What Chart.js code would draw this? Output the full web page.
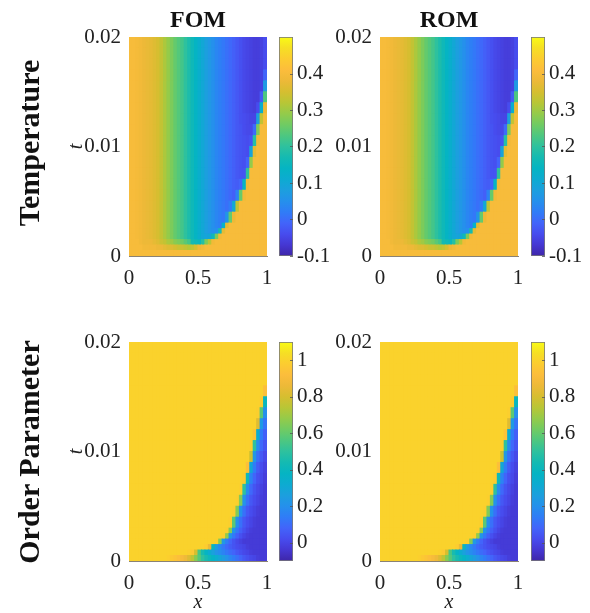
<!DOCTYPE html>
<html><head><meta charset="utf-8">
<script src="https://cdn.jsdelivr.net/npm/chart.js@4/dist/chart.umd.min.js"></script>
<style>
html,body{margin:0;padding:0;background:#fff;}
#wrap{position:relative;width:590px;height:613px;overflow:hidden;background:#fff;}
canvas{position:absolute;left:0;top:0;}
.lbl{position:absolute;font-family:"Liberation Serif","Times New Roman",serif;color:#111;font-weight:bold;white-space:nowrap;line-height:1;transform:translate(-50%,-50%);}
.rot{transform:translate(-50%,-50%) rotate(-90deg);}
</style></head><body>
<div id="wrap">
<canvas id="h1" width="590" height="613"></canvas>
<canvas id="h2" width="590" height="613"></canvas>
<canvas id="h3" width="590" height="613"></canvas>
<canvas id="h4" width="590" height="613"></canvas>
<canvas id="c1" width="590" height="613"></canvas>
<canvas id="c2" width="590" height="613"></canvas>
<canvas id="c3" width="590" height="613"></canvas>
<canvas id="c4" width="590" height="613"></canvas>
<div class="lbl" style="left:198px;top:19px;font-size:24px;">FOM</div>
<div class="lbl" style="left:449px;top:19px;font-size:24px;">ROM</div>
<div class="lbl rot" style="left:29px;top:143px;font-size:30px;">Temperature</div>
<div class="lbl rot" style="left:29px;top:452px;font-size:30px;">Order Parameter</div>
</div>
<script>
// ---------- data ----------
const xCenters = [0.0125,0.0375,0.0625,0.0875,0.1125,0.1375,0.1625,0.1875,0.2125,0.2375,
0.2625,0.2875,0.3125,0.3375,0.3625,0.3875,0.4125,0.4375,0.4625,0.4875,
0.5125,0.5375,0.5625,0.5875,0.6125,0.6375,0.6625,0.6875,0.7125,0.7375,
0.7625,0.7875,0.8125,0.8375,0.8625,0.8875,0.9125,0.9375,0.9625,0.9875];
const tEdges = [0,0.0005,0.001,0.0015,0.002,0.0025,0.003,0.004,0.005,0.006,0.007,0.008,0.009,0.010,0.011,0.012,0.013,0.014,0.015,0.016,0.017,0.018,0.019,0.020];
const xTicks = [0,0.5,1];
const tTicks = [0,0.01,0.02];
const tempTicks = [-0.1,0,0.1,0.2,0.3,0.4];
const orderTicks = [0,0.2,0.4,0.6,0.8,1];
const tempRange = [-0.1,0.5];
const orderRange = [-0.1,1.1];

// rows: bottom (t=0) to top (t=0.02); 40 columns each
const tempFOM = [
[.40,.40,.40,.40,.40,.40,.40,.40,.40,.40,.40,.40,.40,.40,.40,.40,.40,.40,.40,.40,.40,.40,.40,.40,.40,.40,.40,.40,.40,.40,.40,.40,.40,.40,.40,.40,.40,.40,.40,.40],
[.40,.40,.40,.40,.39,.39,.39,.39,.38,.38,.37,.36,.36,.35,.34,.34,.33,.32,.33,.35,.38,.39,.40,.40,.40,.40,.40,.40,.40,.40,.40,.40,.40,.40,.40,.40,.40,.40,.40,.40],
[.40,.40,.40,.39,.38,.38,.38,.37,.36,.34,.33,.31,.30,.28,.27,.26,.24,.22,.17,.16,.15,.19,.27,.32,.39,.40,.40,.40,.40,.40,.40,.40,.40,.40,.40,.40,.40,.40,.40,.40],
[.40,.40,.395,.39,.38,.375,.37,.36,.35,.33,.31,.29,.27,.25,.235,.22,.20,.18,.16,.14,.12,.10,.09,.10,.16,.27,.39,.40,.40,.40,.40,.40,.40,.40,.40,.40,.40,.40,.40,.40],
[.40,.40,.395,.39,.38,.375,.37,.36,.35,.33,.31,.29,.27,.25,.235,.22,.20,.18,.16,.14,.12,.10,.08,.065,.05,.05,.17,.37,.40,.40,.40,.40,.40,.40,.40,.40,.40,.40,.40,.40],
[.40,.40,.395,.39,.38,.375,.37,.36,.35,.33,.31,.29,.27,.25,.235,.22,.20,.18,.16,.14,.12,.10,.08,.065,.05,.035,.025,.13,.37,.40,.40,.40,.40,.40,.40,.40,.40,.40,.40,.40],
[.40,.40,.395,.39,.38,.375,.37,.36,.35,.33,.31,.29,.27,.25,.235,.22,.20,.18,.16,.14,.12,.10,.08,.065,.05,.035,.025,.015,.06,.25,.38,.40,.40,.40,.40,.40,.40,.40,.40,.40],
[.40,.40,.395,.39,.38,.375,.37,.36,.35,.33,.31,.29,.27,.25,.235,.22,.20,.18,.16,.14,.12,.10,.08,.065,.05,.035,.025,.015,.005,.02,.10,.33,.40,.40,.40,.40,.40,.40,.40,.40],
[.40,.40,.395,.39,.38,.375,.37,.36,.35,.33,.31,.29,.27,.25,.235,.22,.20,.18,.16,.14,.12,.10,.08,.065,.05,.035,.025,.015,.005,-.005,-.015,.03,.25,.39,.40,.40,.40,.40,.40,.40],
[.40,.40,.395,.39,.38,.375,.37,.36,.35,.33,.31,.29,.27,.25,.235,.22,.20,.18,.16,.14,.12,.10,.08,.065,.05,.035,.025,.015,.005,-.005,-.015,-.02,-.01,.14,.39,.40,.40,.40,.40,.40],
[.40,.40,.395,.39,.38,.375,.37,.36,.35,.33,.31,.29,.27,.25,.235,.22,.20,.18,.16,.14,.12,.10,.08,.065,.05,.035,.025,.015,.005,-.005,-.015,-.025,-.03,-.03,.20,.40,.40,.40,.40,.40],
[.40,.40,.395,.39,.38,.375,.37,.36,.35,.33,.31,.29,.27,.25,.235,.22,.20,.18,.16,.14,.12,.10,.08,.065,.05,.035,.025,.015,.005,-.005,-.015,-.025,-.03,-.035,-.01,.29,.40,.40,.40,.40],
[.40,.40,.395,.39,.38,.375,.37,.36,.35,.33,.31,.29,.27,.25,.235,.22,.20,.18,.16,.14,.12,.10,.08,.065,.05,.035,.025,.015,.005,-.005,-.015,-.025,-.03,-.035,-.04,.09,.37,.40,.40,.40],
[.40,.40,.395,.39,.38,.375,.37,.36,.35,.33,.31,.29,.27,.25,.235,.22,.20,.18,.16,.14,.12,.10,.08,.065,.05,.035,.025,.015,.005,-.005,-.015,-.025,-.03,-.035,-.04,-.03,.19,.39,.40,.40],
[.40,.40,.395,.39,.38,.375,.37,.36,.35,.33,.31,.29,.27,.25,.235,.22,.20,.18,.16,.14,.12,.10,.08,.065,.05,.035,.025,.015,.005,-.005,-.015,-.025,-.03,-.04,-.045,-.045,.00,.27,.40,.40],
[.40,.40,.395,.39,.38,.375,.37,.36,.35,.33,.31,.29,.27,.25,.235,.22,.20,.18,.16,.14,.12,.10,.08,.065,.05,.035,.025,.015,.005,-.005,-.015,-.025,-.035,-.04,-.045,-.05,-.05,.08,.33,.40],
[.40,.40,.395,.39,.38,.375,.37,.36,.35,.33,.31,.29,.27,.25,.235,.22,.20,.18,.16,.14,.12,.10,.08,.065,.05,.035,.025,.015,.005,-.005,-.015,-.025,-.035,-.045,-.05,-.055,-.06,-.04,.12,.38],
[.40,.40,.395,.39,.38,.375,.37,.36,.35,.33,.31,.29,.27,.25,.235,.22,.20,.18,.16,.14,.12,.10,.08,.065,.05,.035,.025,.015,.005,-.005,-.015,-.025,-.035,-.045,-.05,-.055,-.06,-.06,-.02,.23],
[.40,.40,.395,.39,.38,.375,.37,.36,.35,.33,.31,.29,.27,.25,.235,.22,.20,.18,.16,.14,.12,.10,.08,.065,.05,.035,.025,.015,.005,-.005,-.015,-.025,-.035,-.045,-.05,-.055,-.06,-.06,-.055,.07],
[.40,.40,.395,.39,.38,.375,.37,.36,.35,.33,.31,.29,.27,.25,.235,.22,.20,.18,.16,.14,.12,.10,.08,.065,.05,.035,.025,.015,.005,-.005,-.015,-.025,-.035,-.045,-.05,-.055,-.06,-.06,-.055,-.01],
[.40,.40,.395,.39,.38,.375,.37,.36,.35,.33,.31,.29,.27,.25,.235,.22,.20,.18,.16,.14,.12,.10,.08,.065,.05,.035,.025,.015,.005,-.005,-.015,-.025,-.035,-.045,-.05,-.055,-.06,-.06,-.055,-.04],
[.40,.40,.395,.39,.38,.375,.37,.36,.35,.33,.31,.29,.27,.25,.235,.22,.20,.18,.16,.14,.12,.10,.08,.065,.05,.035,.025,.015,.005,-.005,-.015,-.025,-.035,-.045,-.05,-.055,-.06,-.06,-.055,-.04],
[.40,.40,.395,.39,.38,.375,.37,.36,.35,.33,.31,.29,.27,.25,.235,.22,.20,.18,.16,.14,.12,.10,.08,.065,.05,.035,.025,.015,.005,-.005,-.015,-.025,-.035,-.045,-.05,-.055,-.06,-.06,-.055,-.04]
];
const tempROM = [
[.40,.40,.40,.40,.40,.40,.40,.40,.40,.40,.40,.40,.40,.40,.40,.40,.40,.40,.40,.40,.40,.40,.40,.40,.40,.40,.40,.40,.40,.40,.40,.40,.40,.40,.40,.40,.40,.40,.40,.40],
[.40,.40,.40,.40,.39,.39,.39,.39,.38,.38,.37,.36,.36,.35,.34,.34,.33,.32,.33,.35,.38,.39,.40,.40,.40,.40,.40,.40,.40,.40,.40,.40,.40,.40,.40,.40,.40,.40,.40,.40],
[.40,.40,.40,.39,.38,.38,.38,.37,.36,.34,.33,.31,.30,.28,.27,.26,.24,.22,.17,.16,.15,.19,.27,.32,.39,.40,.40,.40,.40,.40,.40,.40,.40,.40,.40,.40,.40,.40,.40,.40],
[.40,.40,.395,.39,.38,.375,.37,.36,.35,.33,.31,.29,.27,.25,.235,.22,.20,.18,.16,.14,.12,.10,.09,.10,.16,.27,.39,.40,.40,.40,.40,.40,.40,.40,.40,.40,.40,.40,.40,.40],
[.40,.40,.395,.39,.38,.375,.37,.36,.35,.33,.31,.29,.27,.25,.235,.22,.20,.18,.16,.14,.12,.10,.08,.065,.05,.05,.17,.37,.40,.40,.40,.40,.40,.40,.40,.40,.40,.40,.40,.40],
[.40,.40,.395,.39,.38,.375,.37,.36,.35,.33,.31,.29,.27,.25,.235,.22,.20,.18,.16,.14,.12,.10,.08,.065,.05,.035,.025,.13,.37,.40,.40,.40,.40,.40,.40,.40,.40,.40,.40,.40],
[.40,.40,.395,.39,.38,.375,.37,.36,.35,.33,.31,.29,.27,.25,.235,.22,.20,.18,.16,.14,.12,.10,.08,.065,.05,.035,.025,.015,.06,.25,.38,.40,.40,.40,.40,.40,.40,.40,.40,.40],
[.40,.40,.395,.39,.38,.375,.37,.36,.35,.33,.31,.29,.27,.25,.235,.22,.20,.18,.16,.14,.12,.10,.08,.065,.05,.035,.025,.015,.005,.02,.10,.33,.40,.40,.40,.40,.40,.40,.40,.40],
[.40,.40,.395,.39,.38,.375,.37,.36,.35,.33,.31,.29,.27,.25,.235,.22,.20,.18,.16,.14,.12,.10,.08,.065,.05,.035,.025,.015,.005,-.005,-.015,.03,.25,.39,.40,.40,.40,.40,.40,.40],
[.40,.40,.395,.39,.38,.375,.37,.36,.35,.33,.31,.29,.27,.25,.235,.22,.20,.18,.16,.14,.12,.10,.08,.065,.05,.035,.025,.015,.005,-.005,-.015,-.02,-.01,.14,.39,.40,.40,.40,.40,.40],
[.40,.40,.395,.39,.38,.375,.37,.36,.35,.33,.31,.29,.27,.25,.235,.22,.20,.18,.16,.14,.12,.10,.08,.065,.05,.035,.025,.015,.005,-.005,-.015,-.025,-.03,-.03,.20,.40,.40,.40,.40,.40],
[.40,.40,.395,.39,.38,.375,.37,.36,.35,.33,.31,.29,.27,.25,.235,.22,.20,.18,.16,.14,.12,.10,.08,.065,.05,.035,.025,.015,.005,-.005,-.015,-.025,-.03,-.035,-.01,.29,.40,.40,.40,.40],
[.40,.40,.395,.39,.38,.375,.37,.36,.35,.33,.31,.29,.27,.25,.235,.22,.20,.18,.16,.14,.12,.10,.08,.065,.05,.035,.025,.015,.005,-.005,-.015,-.025,-.03,-.035,-.04,.09,.37,.40,.40,.40],
[.40,.40,.395,.39,.38,.375,.37,.36,.35,.33,.31,.29,.27,.25,.235,.22,.20,.18,.16,.14,.12,.10,.08,.065,.05,.035,.025,.015,.005,-.005,-.015,-.025,-.03,-.035,-.04,-.03,.19,.39,.40,.40],
[.40,.40,.395,.39,.38,.375,.37,.36,.35,.33,.31,.29,.27,.25,.235,.22,.20,.18,.16,.14,.12,.10,.08,.065,.05,.035,.025,.015,.005,-.005,-.015,-.025,-.03,-.04,-.045,-.045,.00,.27,.40,.40],
[.40,.40,.395,.39,.38,.375,.37,.36,.35,.33,.31,.29,.27,.25,.235,.22,.20,.18,.16,.14,.12,.10,.08,.065,.05,.035,.025,.015,.005,-.005,-.015,-.025,-.035,-.04,-.045,-.05,-.05,.08,.33,.40],
[.40,.40,.395,.39,.38,.375,.37,.36,.35,.33,.31,.29,.27,.25,.235,.22,.20,.18,.16,.14,.12,.10,.08,.065,.05,.035,.025,.015,.005,-.005,-.015,-.025,-.035,-.045,-.05,-.055,-.06,-.04,.12,.38],
[.40,.40,.395,.39,.38,.375,.37,.36,.35,.33,.31,.29,.27,.25,.235,.22,.20,.18,.16,.14,.12,.10,.08,.065,.05,.035,.025,.015,.005,-.005,-.015,-.025,-.035,-.045,-.05,-.055,-.06,-.06,-.02,.23],
[.40,.40,.395,.39,.38,.375,.37,.36,.35,.33,.31,.29,.27,.25,.235,.22,.20,.18,.16,.14,.12,.10,.08,.065,.05,.035,.025,.015,.005,-.005,-.015,-.025,-.035,-.045,-.05,-.055,-.06,-.06,-.055,.07],
[.40,.40,.395,.39,.38,.375,.37,.36,.35,.33,.31,.29,.27,.25,.235,.22,.20,.18,.16,.14,.12,.10,.08,.065,.05,.035,.025,.015,.005,-.005,-.015,-.025,-.035,-.045,-.05,-.055,-.06,-.06,-.055,-.01],
[.40,.40,.395,.39,.38,.375,.37,.36,.35,.33,.31,.29,.27,.25,.235,.22,.20,.18,.16,.14,.12,.10,.08,.065,.05,.035,.025,.015,.005,-.005,-.015,-.025,-.035,-.045,-.05,-.055,-.06,-.06,-.055,-.04],
[.40,.40,.395,.39,.38,.375,.37,.36,.35,.33,.31,.29,.27,.25,.235,.22,.20,.18,.16,.14,.12,.10,.08,.065,.05,.035,.025,.015,.005,-.005,-.015,-.025,-.035,-.045,-.05,-.055,-.06,-.06,-.055,-.04],
[.40,.40,.395,.39,.38,.375,.37,.36,.35,.33,.31,.29,.27,.25,.235,.22,.20,.18,.16,.14,.12,.10,.08,.065,.05,.035,.025,.015,.005,-.005,-.015,-.025,-.035,-.045,-.05,-.055,-.06,-.06,-.055,-.04]
];
const orderFOM = [
[1,1,1,1,1,1,1,1,1,1,1,.99,.97,.95,.93,.90,.87,.82,.75,.66,.57,.50,.45,.41,.37,.33,.29,.25,.21,.17,.14,.11,.08,.05,.03,.01,0,-.02,-.03,-.03],
[1,1,1,1,1,1,1,1,1,1,1,1,1,1,1,1,1,.99,.97,.80,.55,.45,.38,.32,.27,.22,.19,.16,.13,.10,.08,.05,.03,.01,0,-.02,-.03,-.03,-.03,-.03],
[1,1,1,1,1,1,1,1,1,1,1,1,1,1,1,1,1,1,1,1,1,1,.98,.85,.40,.25,.18,.13,.09,.06,.04,.02,.01,0,-.02,-.03,-.03,-.03,-.03,-.03],
[1,1,1,1,1,1,1,1,1,1,1,1,1,1,1,1,1,1,1,1,1,1,1,1,1,.99,.65,.23,.14,.08,.04,.01,-.01,-.03,-.03,-.03,-.03,-.03,-.03,-.03],
[1,1,1,1,1,1,1,1,1,1,1,1,1,1,1,1,1,1,1,1,1,1,1,1,1,1,1,.99,.68,.22,.13,.07,.03,0,-.02,-.03,-.03,-.03,-.03,-.03],
[1,1,1,1,1,1,1,1,1,1,1,1,1,1,1,1,1,1,1,1,1,1,1,1,1,1,1,1,.99,.65,.22,.13,.07,.03,0,-.02,-.03,-.03,-.03,-.03],
[1,1,1,1,1,1,1,1,1,1,1,1,1,1,1,1,1,1,1,1,1,1,1,1,1,1,1,1,1,.99,.58,.20,.11,.05,.02,0,-.02,-.03,-.03,-.03],
[1,1,1,1,1,1,1,1,1,1,1,1,1,1,1,1,1,1,1,1,1,1,1,1,1,1,1,1,1,1,.99,.65,.21,.11,.05,.02,0,-.02,-.03,-.03],
[1,1,1,1,1,1,1,1,1,1,1,1,1,1,1,1,1,1,1,1,1,1,1,1,1,1,1,1,1,1,1,.99,.65,.21,.11,.05,.02,0,-.02,-.03],
[1,1,1,1,1,1,1,1,1,1,1,1,1,1,1,1,1,1,1,1,1,1,1,1,1,1,1,1,1,1,1,1,.99,.50,.19,.09,.04,.01,-.01,-.03],
[1,1,1,1,1,1,1,1,1,1,1,1,1,1,1,1,1,1,1,1,1,1,1,1,1,1,1,1,1,1,1,1,1,.98,.42,.16,.08,.03,.01,-.02],
[1,1,1,1,1,1,1,1,1,1,1,1,1,1,1,1,1,1,1,1,1,1,1,1,1,1,1,1,1,1,1,1,1,1,.93,.30,.14,.06,.02,-.01],
[1,1,1,1,1,1,1,1,1,1,1,1,1,1,1,1,1,1,1,1,1,1,1,1,1,1,1,1,1,1,1,1,1,1,1,.78,.23,.11,.05,.01],
[1,1,1,1,1,1,1,1,1,1,1,1,1,1,1,1,1,1,1,1,1,1,1,1,1,1,1,1,1,1,1,1,1,1,1,.99,.50,.19,.09,.04],
[1,1,1,1,1,1,1,1,1,1,1,1,1,1,1,1,1,1,1,1,1,1,1,1,1,1,1,1,1,1,1,1,1,1,1,1,.95,.33,.14,.07],
[1,1,1,1,1,1,1,1,1,1,1,1,1,1,1,1,1,1,1,1,1,1,1,1,1,1,1,1,1,1,1,1,1,1,1,1,1,.82,.24,.12],
[1,1,1,1,1,1,1,1,1,1,1,1,1,1,1,1,1,1,1,1,1,1,1,1,1,1,1,1,1,1,1,1,1,1,1,1,1,.99,.58,.20],
[1,1,1,1,1,1,1,1,1,1,1,1,1,1,1,1,1,1,1,1,1,1,1,1,1,1,1,1,1,1,1,1,1,1,1,1,1,1,.98,.40],
[1,1,1,1,1,1,1,1,1,1,1,1,1,1,1,1,1,1,1,1,1,1,1,1,1,1,1,1,1,1,1,1,1,1,1,1,1,1,1,.93],
[1,1,1,1,1,1,1,1,1,1,1,1,1,1,1,1,1,1,1,1,1,1,1,1,1,1,1,1,1,1,1,1,1,1,1,1,1,1,1,1],
[1,1,1,1,1,1,1,1,1,1,1,1,1,1,1,1,1,1,1,1,1,1,1,1,1,1,1,1,1,1,1,1,1,1,1,1,1,1,1,1],
[1,1,1,1,1,1,1,1,1,1,1,1,1,1,1,1,1,1,1,1,1,1,1,1,1,1,1,1,1,1,1,1,1,1,1,1,1,1,1,1],
[1,1,1,1,1,1,1,1,1,1,1,1,1,1,1,1,1,1,1,1,1,1,1,1,1,1,1,1,1,1,1,1,1,1,1,1,1,1,1,1]
];
const orderROM = [
[1,1,1,1,1,1,1,1,1,1,1,.99,.97,.95,.93,.90,.87,.82,.75,.66,.57,.50,.45,.41,.37,.33,.29,.25,.21,.17,.14,.11,.08,.05,.03,.01,0,-.02,-.03,-.03],
[1,1,1,1,1,1,1,1,1,1,1,1,1,1,1,1,1,.99,.97,.80,.55,.45,.38,.32,.27,.22,.19,.16,.13,.10,.08,.05,.03,.01,0,-.02,-.03,-.03,-.03,-.03],
[1,1,1,1,1,1,1,1,1,1,1,1,1,1,1,1,1,1,1,1,1,1,.98,.85,.40,.25,.18,.13,.09,.06,.04,.02,.01,0,-.02,-.03,-.03,-.03,-.03,-.03],
[1,1,1,1,1,1,1,1,1,1,1,1,1,1,1,1,1,1,1,1,1,1,1,1,1,.99,.65,.23,.14,.08,.04,.01,-.01,-.03,-.03,-.03,-.03,-.03,-.03,-.03],
[1,1,1,1,1,1,1,1,1,1,1,1,1,1,1,1,1,1,1,1,1,1,1,1,1,1,1,.99,.68,.22,.13,.07,.03,0,-.02,-.03,-.03,-.03,-.03,-.03],
[1,1,1,1,1,1,1,1,1,1,1,1,1,1,1,1,1,1,1,1,1,1,1,1,1,1,1,1,.99,.65,.22,.13,.07,.03,0,-.02,-.03,-.03,-.03,-.03],
[1,1,1,1,1,1,1,1,1,1,1,1,1,1,1,1,1,1,1,1,1,1,1,1,1,1,1,1,1,.99,.58,.20,.11,.05,.02,0,-.02,-.03,-.03,-.03],
[1,1,1,1,1,1,1,1,1,1,1,1,1,1,1,1,1,1,1,1,1,1,1,1,1,1,1,1,1,1,.99,.65,.21,.11,.05,.02,0,-.02,-.03,-.03],
[1,1,1,1,1,1,1,1,1,1,1,1,1,1,1,1,1,1,1,1,1,1,1,1,1,1,1,1,1,1,1,.99,.65,.21,.11,.05,.02,0,-.02,-.03],
[1,1,1,1,1,1,1,1,1,1,1,1,1,1,1,1,1,1,1,1,1,1,1,1,1,1,1,1,1,1,1,1,.99,.50,.19,.09,.04,.01,-.01,-.03],
[1,1,1,1,1,1,1,1,1,1,1,1,1,1,1,1,1,1,1,1,1,1,1,1,1,1,1,1,1,1,1,1,1,.98,.42,.16,.08,.03,.01,-.02],
[1,1,1,1,1,1,1,1,1,1,1,1,1,1,1,1,1,1,1,1,1,1,1,1,1,1,1,1,1,1,1,1,1,1,.93,.30,.14,.06,.02,-.01],
[1,1,1,1,1,1,1,1,1,1,1,1,1,1,1,1,1,1,1,1,1,1,1,1,1,1,1,1,1,1,1,1,1,1,1,.78,.23,.11,.05,.01],
[1,1,1,1,1,1,1,1,1,1,1,1,1,1,1,1,1,1,1,1,1,1,1,1,1,1,1,1,1,1,1,1,1,1,1,.99,.50,.19,.09,.04],
[1,1,1,1,1,1,1,1,1,1,1,1,1,1,1,1,1,1,1,1,1,1,1,1,1,1,1,1,1,1,1,1,1,1,1,1,.95,.33,.14,.07],
[1,1,1,1,1,1,1,1,1,1,1,1,1,1,1,1,1,1,1,1,1,1,1,1,1,1,1,1,1,1,1,1,1,1,1,1,1,.82,.24,.12],
[1,1,1,1,1,1,1,1,1,1,1,1,1,1,1,1,1,1,1,1,1,1,1,1,1,1,1,1,1,1,1,1,1,1,1,1,1,.99,.58,.20],
[1,1,1,1,1,1,1,1,1,1,1,1,1,1,1,1,1,1,1,1,1,1,1,1,1,1,1,1,1,1,1,1,1,1,1,1,1,1,.98,.40],
[1,1,1,1,1,1,1,1,1,1,1,1,1,1,1,1,1,1,1,1,1,1,1,1,1,1,1,1,1,1,1,1,1,1,1,1,1,1,1,.93],
[1,1,1,1,1,1,1,1,1,1,1,1,1,1,1,1,1,1,1,1,1,1,1,1,1,1,1,1,1,1,1,1,1,1,1,1,1,1,1,1],
[1,1,1,1,1,1,1,1,1,1,1,1,1,1,1,1,1,1,1,1,1,1,1,1,1,1,1,1,1,1,1,1,1,1,1,1,1,1,1,1],
[1,1,1,1,1,1,1,1,1,1,1,1,1,1,1,1,1,1,1,1,1,1,1,1,1,1,1,1,1,1,1,1,1,1,1,1,1,1,1,1],
[1,1,1,1,1,1,1,1,1,1,1,1,1,1,1,1,1,1,1,1,1,1,1,1,1,1,1,1,1,1,1,1,1,1,1,1,1,1,1,1]
];

// ---------- colormap (parula-like, 21 stops) ----------
const cmapStops = [
[62,38,168],[69,55,210],[71,76,238],[66,100,250],[48,124,247],[37,144,236],[28,159,222],
[13,171,209],[5,180,195],[20,186,178],[46,193,158],[77,199,128],[112,203,99],[148,203,74],
[184,198,54],[214,190,48],[237,185,56],[252,189,60],[252,204,48],[246,223,36],[249,251,21]
];
function cmapFrac(f){
  f = Math.max(0, Math.min(1, f));
  const n = cmapStops.length - 1;
  const p = f * n;
  const i = Math.min(n - 1, Math.floor(p));
  const a = p - i;
  const c = cmapStops[i].map((v, k) => Math.round(v + (cmapStops[i+1][k] - v) * a));
  return 'rgb(' + c.join(',') + ')';
}
function cmap(v, range){ return cmapFrac((v - range[0]) / (range[1] - range[0])); }

// ---------- charts ----------
const W = 590, H = 613, YW = 69;
const FAM = '"Liberation Serif", "Times New Roman", serif';
const TXT = '#222';
const FS = 21;
Chart.defaults.font.family = FAM;

function makeHeat(id, grid, range, box, showT, showX){
  const datasets = grid.map((row, i) => ({
    data: row.map((v, j) => ({x: xCenters[j], y: [tEdges[i], tEdges[i+1]]})),
    backgroundColor: row.map(v => cmap(v, range)),
    borderWidth: 0, grouped: false, barPercentage: 1, categoryPercentage: 1, inflateAmount: 0.5
  }));
  new Chart(document.getElementById(id), {
    type: 'bar',
    data: {datasets},
    options: {
      responsive: false, animation: false, events: [],
      layout: {padding: {left: box.l - YW, top: box.t, right: W - box.r, bottom: H - box.b - box.xh}},
      plugins: {legend: {display: false}, tooltip: {enabled: false}},
      scales: {
        x: {
          type: 'linear', min: 0, max: 1, offset: false,
          afterBuildTicks: s => { s.ticks = xTicks.map(v => ({value: v})); },
          afterFit: s => { s.height = box.xh; },
          grid: {display: false, drawTicks: false, tickLength: 0, offset: false},
          border: {display: true, color: '#8a8274', width: 1},
          ticks: {padding: 10, font: {family: FAM, size: FS}, color: TXT, maxRotation: 0, autoSkip: false, callback: v => String(v)},
          title: {display: showX, text: 'x', font: {family: FAM, size: 20, style: 'italic'}, color: TXT, padding: {top: 0, bottom: -2}}
        },
        y: {
          type: 'linear', min: 0, max: 0.02,
          afterBuildTicks: s => { s.ticks = tTicks.map(v => ({value: v})); },
          afterFit: s => { s.width = YW; },
          grid: {display: false, drawTicks: false, tickLength: 0},
          border: {display: false},
          ticks: {padding: 8, font: {family: FAM, size: FS}, color: TXT, autoSkip: false, callback: v => String(v)},
          title: {display: showT, text: 't', font: {family: FAM, size: 20, style: 'italic'}, color: TXT, padding: {top: 5, bottom: 0}}
        }
      }
    }
  });
}

const colorbarPlugin = {
  id: 'colorbar',
  beforeDatasetsDraw(chart){
    const a = chart.chartArea, ctx = chart.ctx;
    const ticks = chart.options.plugins.colorbar.ticks;
    const g = ctx.createLinearGradient(0, a.bottom, 0, a.top);
    const n = cmapStops.length - 1;
    for (let k = 0; k <= n; k++) g.addColorStop(k / n, cmapFrac(k / n));
    ctx.save();
    ctx.fillStyle = g;
    ctx.fillRect(a.left, a.top, a.right - a.left, a.bottom - a.top);
    ctx.strokeStyle = '#7a7a7a'; ctx.lineWidth = 0.8;
    ctx.strokeRect(a.left + 0.4, a.top + 0.4, a.right - a.left - 0.8, a.bottom - a.top - 0.8);
    const ys = chart.scales.y;
    ctx.strokeStyle = '#555'; ctx.lineWidth = 0.8;
    ticks.forEach(v => {
      const y = Math.round(ys.getPixelForValue(v)) + 0.5;
      ctx.beginPath(); ctx.moveTo(a.right - 3, y); ctx.lineTo(a.right, y); ctx.stroke();
    });
    ctx.restore();
  }
};

function makeBar(id, range, ticks, box){
  const AW = 40;
  new Chart(document.getElementById(id), {
    type: 'scatter',
    data: {datasets: []},
    plugins: [colorbarPlugin],
    options: {
      responsive: false, animation: false, events: [],
      layout: {padding: {left: box.l, top: box.t, right: W - box.r - AW, bottom: H - box.b}},
      plugins: {legend: {display: false}, tooltip: {enabled: false}, colorbar: {ticks}},
      scales: {
        x: {type: 'linear', display: false, min: 0, max: 1},
        y: {
          type: 'linear', position: 'right', min: range[0], max: range[1],
          afterBuildTicks: s => { s.ticks = ticks.map(v => ({value: v})); },
          afterFit: s => { s.width = AW; },
          grid: {display: false, drawTicks: false, tickLength: 0},
          border: {display: false},
          ticks: {padding: 4, font: {family: FAM, size: FS}, color: TXT, autoSkip: false, callback: v => String(v)}
        }
      }
    }
  });
}

makeHeat('h1', tempFOM, tempRange, {l: 129, r: 267, t: 37, b: 256, xh: 40}, true, false);
makeHeat('h2', tempROM, tempRange, {l: 380, r: 518, t: 37, b: 256, xh: 40}, false, false);
makeHeat('h3', orderFOM, orderRange, {l: 129, r: 267, t: 342, b: 561, xh: 52}, true, true);
makeHeat('h4', orderROM, orderRange, {l: 380, r: 518, t: 342, b: 561, xh: 52}, false, true);
makeBar('c1', tempRange, tempTicks, {l: 279, r: 293, t: 37, b: 256});
makeBar('c2', tempRange, tempTicks, {l: 531, r: 545, t: 37, b: 256});
makeBar('c3', orderRange, orderTicks, {l: 279, r: 293, t: 342, b: 561});
makeBar('c4', orderRange, orderTicks, {l: 531, r: 545, t: 342, b: 561});
</script>
</body></html>
